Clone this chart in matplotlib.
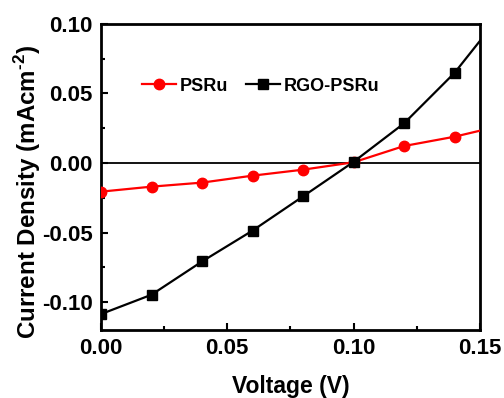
import matplotlib

matplotlib.use("Agg")
import matplotlib.pyplot as plt
from matplotlib.ticker import MultipleLocator

# voltage (V) and current density (mA cm^-2)
voltage = [0.00, 0.02, 0.04, 0.06, 0.08, 0.10, 0.12, 0.14, 0.16]
psru = [-0.0206, -0.0170, -0.0141, -0.0091, -0.0048, 0.0005, 0.0122, 0.0189, 0.0275]
rgo_psru = [-0.1086, -0.0947, -0.0708, -0.0486, -0.0240, 0.0008, 0.0285, 0.0648, 0.1105]

x_ticks = [0.00, 0.05, 0.10, 0.15]
y_ticks = [-0.10, -0.05, 0.00, 0.05, 0.10]

FONT_XLABEL = 16.5
FONT_YLABEL = 17.4
FONT_TICKS = 16
FONT_LEGEND = 13

plt.rcParams["font.family"] = ["Liberation Sans", "DejaVu Sans"]
plt.rcParams["font.weight"] = "bold"
plt.rcParams["mathtext.fontset"] = "custom"
plt.rcParams["mathtext.rm"] = "Liberation Sans:bold"
plt.rcParams["mathtext.bf"] = "Liberation Sans:bold"

fig = plt.figure(figsize=(5.04, 3.98), dpi=100)
ax = fig.add_axes([0.2004, 0.171, 0.7516, 0.769])

ax.axhline(0, color="black", linewidth=1.3, zorder=1)
ax.plot(voltage, psru, color="#ff0000", marker="o", markersize=7.5,
        linewidth=1.6, label="PSRu", zorder=3)
ax.plot(voltage, rgo_psru, color="black", marker="s", markersize=6.5,
        linewidth=1.6, label="RGO-PSRu", zorder=3)

ax.set_xlim(0.0, 0.15)
ax.set_ylim(-0.12, 0.10)
ax.set_xticks(x_ticks)
ax.set_yticks(y_ticks)
ax.set_xticklabels([f"{v:.2f}" for v in x_ticks])
ax.set_yticklabels([f"{v:.2f}" for v in y_ticks])
ax.xaxis.set_minor_locator(MultipleLocator(0.025))
ax.yaxis.set_minor_locator(MultipleLocator(0.025))
ax.tick_params(which="both", direction="in", top=False, right=False, width=1.5)
ax.tick_params(which="major", length=5, labelsize=FONT_TICKS, pad=6)
ax.tick_params(which="minor", length=3)
for lbl in ax.get_xticklabels() + ax.get_yticklabels():
    lbl.set_fontweight("bold")
for spine in ax.spines.values():
    spine.set_linewidth(2)

ax.set_xlabel("Voltage (V)", fontsize=FONT_XLABEL, fontweight="bold", labelpad=11)
ax.set_ylabel(r"Current Density (mAcm$^{\text{-2}}$)", fontsize=FONT_YLABEL,
              fontweight="bold")
ax.yaxis.set_label_coords(-0.152, 0.45)

ax.legend(loc="center left", bbox_to_anchor=(0.108, 0.797), ncol=2, frameon=False,
          borderpad=0, borderaxespad=0, handlelength=1.9, handletextpad=0.22,
          columnspacing=0.95, prop={"weight": "bold", "size": FONT_LEGEND})

fig.savefig("out.png", dpi=100)
